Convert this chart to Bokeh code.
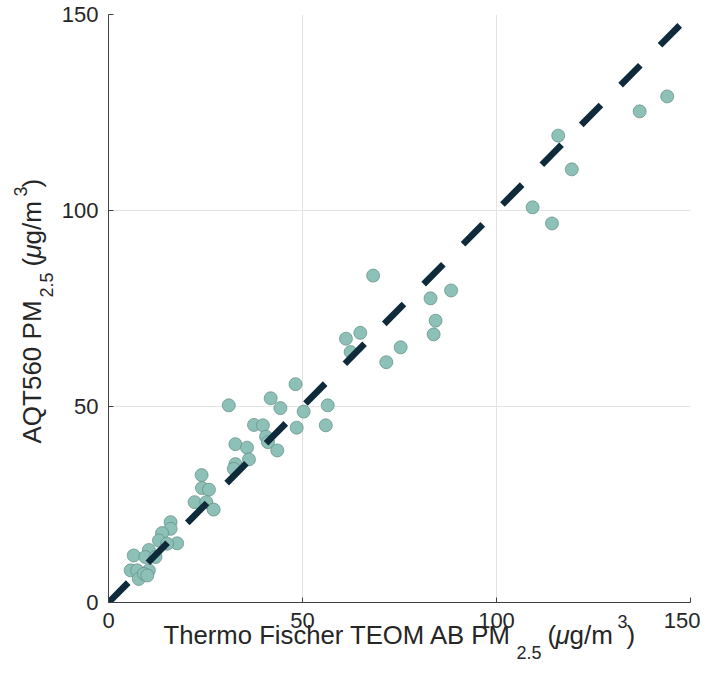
import math
from bokeh.plotting import figure
from bokeh.models import Range1d, FixedTicker, Label
from bokeh.embed import file_html
from bokeh.resources import INLINE

# ---- data ----
teom = [144.0, 136.9, 115.9, 119.4, 109.3, 114.3, 68.2, 88.3, 83.0, 84.3,
        83.8, 64.9, 61.2, 62.4, 75.3, 71.6, 48.2, 56.5, 50.3, 48.5,
        56.0, 41.8, 31.0, 44.3, 37.5, 39.8, 40.6, 41.1, 43.5, 32.7,
        35.7, 36.2, 32.7, 32.3, 24.0, 24.1, 25.9, 22.2, 25.2, 27.1,
        16.0, 16.0, 13.8, 13.0, 17.7, 15.1, 10.4, 6.5, 9.5, 12.1,
        5.7, 7.4, 10.4, 7.8, 9.1, 10.0]
aqt = [129.1, 125.3, 119.1, 110.5, 100.8, 96.7, 83.4, 79.6, 77.6, 71.9,
       68.4, 68.8, 67.3, 63.9, 65.1, 61.3, 55.7, 50.3, 48.7, 44.6,
       45.2, 52.1, 50.3, 49.6, 45.3, 45.2, 42.3, 40.9, 38.8, 40.4,
       39.5, 36.5, 35.3, 34.1, 32.5, 29.2, 28.8, 25.6, 25.6, 23.7,
       20.5, 18.8, 17.7, 15.8, 15.1, 15.0, 13.4, 12.0, 11.6, 11.6,
       8.2, 8.2, 8.2, 6.0, 7.3, 6.9]
one_to_one = [0, 150]
ticks = [0, 50, 100, 150]

FONT = "Liberation Sans"
TXT = "#262626"

p = figure(frame_width=582, frame_height=588, output_backend="svg",
           toolbar_location=None,
           x_range=Range1d(0, 150), y_range=Range1d(0, 150),
           min_border_left=108, min_border_right=10, min_border_top=14,
           min_border_bottom=78)
p.outline_line_color = None
p.background_fill_color = "white"
p.border_fill_color = "white"

for ax in (p.xaxis[0], p.yaxis[0]):
    ax.ticker = FixedTicker(ticks=ticks)
    ax.major_tick_in = 5
    ax.major_tick_out = 0
    ax.minor_tick_line_color = None
    ax.axis_line_color = "#404040"
    ax.major_tick_line_color = "#404040"
    ax.major_label_text_font = FONT
    ax.major_label_text_font_size = "22px"
    ax.major_label_text_color = TXT
p.xaxis.major_label_standoff = 10
p.yaxis.major_label_standoff = 10

for g in (p.xgrid[0], p.ygrid[0]):
    g.ticker = FixedTicker(ticks=ticks)
    g.grid_line_color = "#e3e3e3"
    g.grid_line_width = 1

p.scatter(teom, aqt, size=13, fill_color="#8dc0b6", line_color="#5e8c84",
          line_width=0.7)
p.line(one_to_one, one_to_one, line_color="#0e2a3b", line_width=6.5,
       line_dash="28 28")

# ---- axis labels built from pieces (sub/superscripts), canvas pixels ----
def lab(text, px, py, size, angle=0.0, style="normal"):
    l = Label(x=px, y=py, x_units="canvas", y_units="canvas",
              text=text, angle=angle, text_font=FONT,
              text_font_size=size, text_color=TXT,
              text_baseline="alphabetic", text_align="left",
              text_font_style=style)
    p.add_layout(l, "below")

# x label
lab("Thermo Fischer TEOM AB PM", 163, 634, "25.7px")
lab("2.5", 516, 652, "18px")
lab("(", 547, 634, "26px")
lab("\u03bc", 555, 634, "26px", style="italic")
lab("g/m", 569, 634, "26px")
lab("3", 617, 621, "18px")
lab(")", 626, 634, "26px")

# y label (rotated, reads upward)
A = math.pi / 2
lab("AQT560 PM", 31, 443, "26px", A)
lab("2.5", 46, 297, "18px", A)
lab("(", 31, 266, "26px", A)
lab("\u03bc", 31, 258, "26px", A, "italic")
lab("g/m", 31, 244, "26px", A)
lab("3", 20, 196, "18px", A)
lab(")", 31, 187, "26px", A)

open("out.html", "w").write(file_html(p, INLINE))
